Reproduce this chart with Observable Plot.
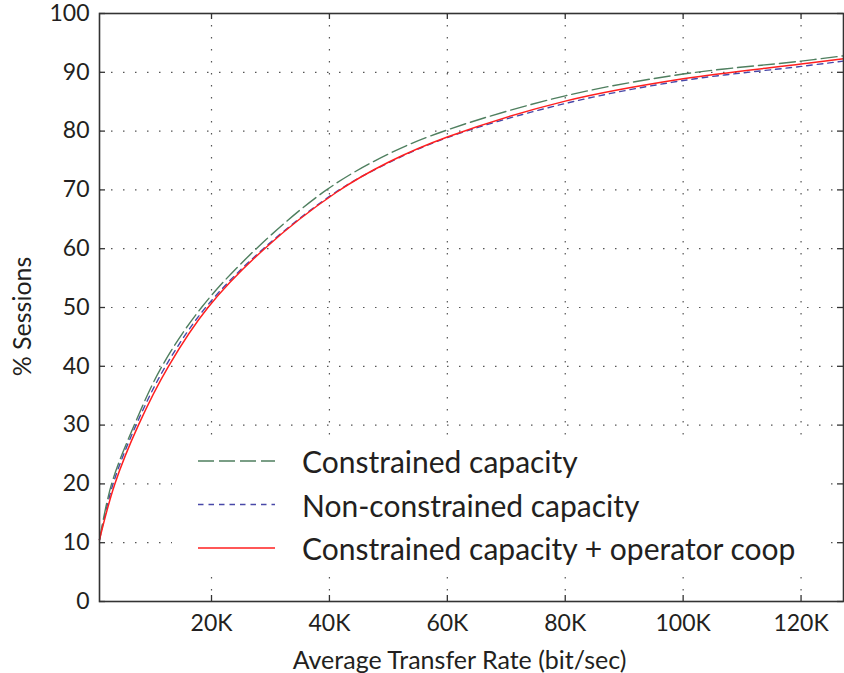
<!DOCTYPE html>
<html>
<head>
<meta charset="utf-8">
<script src="https://cdn.jsdelivr.net/npm/d3@7"></script>
<script src="https://cdn.jsdelivr.net/npm/@observablehq/plot@0.6"></script>
<style>
  html, body { margin: 0; padding: 0; background: #fff; }
  #wrap { position: relative; width: 844px; height: 673px; font-family: Lato, "Open Sans", sans-serif; color: #231f20; }
  #legend { position: absolute; left: 172px; top: 436px; width: 658px; height: 138px; background: #fff; }
</style>
</head>
<body>
<div id="wrap"></div>
<script>
// ---- data (x in thousands of bit/sec, y in % sessions) ----
const constrainedX    = [1, 3.05, 6.9, 11.6, 18.3, 27.6, 39.5, 50, 60, 80, 100, 120, 127.2];
const constrainedY    = [10.5, 20, 30, 40, 50, 60, 70, 76.1, 80.2, 86.0, 89.7, 91.9, 92.8];
const nonConstrainedX = [1, 3.3, 7.2, 12.2, 19.0, 28.8, 41.2, 50, 60, 80, 100, 120, 127.2];
const nonConstrainedY = [10.5, 20, 30, 40, 50, 60, 69.7, 74.6, 78.9, 84.7, 88.6, 91.0, 91.9];
const coopX           = [1, 3.6, 7.6, 12.7, 19.4, 29.0, 41.2, 50, 60, 80, 100, 120, 127.2];
const coopY           = [10.5, 20, 30, 40, 50, 60, 69.6, 74.7, 79.0, 85.1, 88.9, 91.4, 92.3];
const seriesNames = ["Constrained capacity", "Non-constrained capacity", "Constrained capacity + operator coop"];
const seriesColors = ["#4f7f5f", "#4848a8", "#ff1f1f"];
const seriesDash = ["16,5", "5.5,5", null];
const xTicks = [20, 40, 60, 80, 100, 120];
const xTickLabels = ["20K", "40K", "60K", "80K", "100K", "120K"];
const yTicks = [0, 10, 20, 30, 40, 50, 60, 70, 80, 90, 100];
const xLabel = "Average Transfer Rate (bit/sec)";
const yLabel = "% Sessions";

const seriesX = [constrainedX, nonConstrainedX, coopX];
const seriesY = [constrainedY, nonConstrainedY, coopY];
const rows = (k) => seriesX[k].map((x, i) => ({x, y: seriesY[k][i], s: seriesNames[k]}));

const W = 844, H = 673, mL = 99, mR = 1, mT = 13, mB = 72;
const pw = W - mL - mR, ph = H - mT - mB;
const tick = 6;
const gridStyle = {stroke: "#555", strokeOpacity: 1, strokeWidth: 1.2, strokeDasharray: "1.5,10.5"};
const tickStyle = {stroke: "#333", strokeWidth: 1.3};

const lineMark = (k) => Plot.line(rows(k), {
  x: "x", y: "y", stroke: seriesColors[k], strokeWidth: k === 2 ? 1.5 : 1.4,
  strokeDasharray: seriesDash[k] || undefined, curve: "catmull-rom"
});

const chart = Plot.plot({
  width: W, height: H,
  marginLeft: mL, marginRight: mR, marginTop: mT, marginBottom: mB,
  style: {fontFamily: "Lato, 'Open Sans', sans-serif", fontSize: "23px", color: "#231f20", background: "#fff"},
  x: {domain: [1, 127.2]},
  y: {domain: [0, 100]},
  marks: [
    Plot.gridX(xTicks, gridStyle),
    Plot.gridY(yTicks.filter(v => v > 0 && v < 100), gridStyle),
    lineMark(1),
    lineMark(0),
    lineMark(2),
    Plot.frame({stroke: "#333", strokeWidth: 1.6}),
    // inward ticks on all four sides
    Plot.ruleX(xTicks, {...tickStyle, insetTop: ph - tick}),
    Plot.ruleX(xTicks, {...tickStyle, insetBottom: ph - tick}),
    Plot.ruleY(yTicks, {...tickStyle, insetRight: pw - tick}),
    Plot.ruleY(yTicks, {...tickStyle, insetLeft: pw - tick}),
    Plot.axisX(xTicks, {tickSize: 0, tickPadding: 13, tickFormat: d => xTickLabels[xTicks.indexOf(d)], label: null, fill: "#231f20"}),
    Plot.axisY(yTicks, {tickSize: 0, tickPadding: 10, label: null, fill: "#231f20"}),
    Plot.text([xLabel], {frameAnchor: "bottom", textAnchor: "middle", lineAnchor: "bottom", dx: -12, dy: 67, fill: "#231f20", fontSize: 25}),
    Plot.text([yLabel], {frameAnchor: "left", textAnchor: "middle", lineAnchor: "middle", rotate: -90, dx: -77, dy: 9, fill: "#231f20", fontSize: 25})
  ]
});

const wrap = document.getElementById("wrap");
wrap.appendChild(chart);

// legend drawn inside the plot area, with white background
const NS = "http://www.w3.org/2000/svg";
const leg = document.createElement("div");
leg.id = "legend";
const lsvg = document.createElementNS(NS, "svg");
lsvg.setAttribute("width", 658);
lsvg.setAttribute("height", 138);
lsvg.style.display = "block";
seriesNames.forEach((name, k) => {
  const cy = 25 + k * 43.5;
  const ln = document.createElementNS(NS, "line");
  ln.setAttribute("x1", 26); ln.setAttribute("x2", 103);
  ln.setAttribute("y1", cy); ln.setAttribute("y2", cy);
  ln.setAttribute("stroke", seriesColors[k]);
  ln.setAttribute("stroke-width", 1.5);
  if (seriesDash[k]) ln.setAttribute("stroke-dasharray", seriesDash[k]);
  lsvg.appendChild(ln);
  const t = document.createElementNS(NS, "text");
  t.setAttribute("x", 130); t.setAttribute("y", cy + 12);
  t.setAttribute("font-size", 30);
  t.setAttribute("font-family", "Lato, 'Open Sans', sans-serif");
  t.setAttribute("fill", "#231f20");
  t.textContent = name;
  lsvg.appendChild(t);
});
leg.appendChild(lsvg);
wrap.appendChild(leg);
</script>
</body>
</html>
